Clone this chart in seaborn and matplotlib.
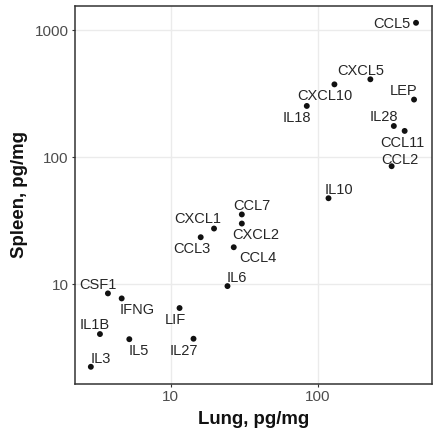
import matplotlib
matplotlib.use("Agg")
import matplotlib.pyplot as plt
import seaborn as sns
import pandas as pd

# ---- data ----
cytokines = ["CCL5", "CXCL5", "CXCL10", "IL18", "LEP", "IL28", "CCL11", "CCL2",
             "IL10", "CCL7", "CXCL2", "CXCL1", "CCL3", "CCL4", "IL6", "CSF1",
             "IFNG", "LIF", "IL1B", "IL5", "IL27", "IL3"]
lung = [461, 226, 129, 83.8, 447, 326, 386, 315,
        117.6, 30.4, 30.4, 19.7, 16.0, 26.8, 24.3, 3.76,
        4.66, 11.5, 3.32, 5.25, 14.3, 2.88]
spleen = [1140, 410, 374, 253, 284, 176, 161, 85,
          47.6, 35.5, 30.1, 27.5, 23.5, 19.6, 9.7, 8.5,
          7.76, 6.52, 4.07, 3.71, 3.74, 2.25]
x_ticks = [10, 100]
y_ticks = [10, 100, 1000]

# label offsets (pixels: dx right, dy down) of label centre from point
label_offsets = {
    "CCL5": (-24.3, 0.3), "CXCL5": (-9.7, -9.3), "CXCL10": (-9.7, 10.7),
    "IL18": (-10, 11), "LEP": (-10.3, -9.7), "IL28": (-10, -10),
    "CCL11": (-2, 11), "CCL2": (8, -7.7), "IL10": (10, -9.4),
    "CCL7": (9.7, -10), "CXCL1": (-16, -10.3), "CXCL2": (14, 10.3),
    "CCL3": (-9.3, 10.6), "CCL4": (23.7, 9.3), "IL6": (9.6, -9.3),
    "CSF1": (-9.7, -9.3), "IFNG": (16, 10.7), "LIF": (-3.7, 11),
    "IL1B": (-5, -10), "IL5": (10, 11), "IL27": (-10, 10.6), "IL3": (10, -9),
}

df = pd.DataFrame({"cytokine": cytokines, "lung": lung, "spleen": spleen})

sns.set_theme(style="white")
plt.rcParams["font.family"] = ["Liberation Sans", "DejaVu Sans"]

fig = plt.figure(figsize=(4.35, 4.33), dpi=100)
ax = fig.add_axes([75 / 435, 49 / 433, 357 / 435, 378 / 433])

sns.scatterplot(data=df, x="lung", y="spleen", ax=ax, color="#111111",
                s=18, edgecolor="none", zorder=3)
ax.set_xscale("log")
ax.set_yscale("log")
ax.set_xlim(10 ** 0.352, 10 ** 2.772)
ax.set_ylim(10 ** 0.217, 10 ** 3.189)

ax.set_xticks(x_ticks)
ax.set_xticklabels([str(t) for t in x_ticks])
ax.set_yticks(y_ticks)
ax.set_yticklabels([str(t) for t in y_ticks])
ax.minorticks_off()
ax.tick_params(axis="both", which="major", labelsize=11, labelcolor="#4D4D4D",
               color="#333333", length=2.5, width=0.8, pad=2, direction="out",
               left=True, bottom=True)

ax.grid(True, which="major", color="#EBEBEB", linewidth=1.0, zorder=0)
ax.set_axisbelow(True)
for sp in ax.spines.values():
    sp.set_color("#333333")
    sp.set_linewidth(1.1)

ax.set_xlabel("Lung, pg/mg", fontsize=13.4, fontweight="bold", color="#111111",
              labelpad=5)
ax.set_ylabel("Spleen, pg/mg", fontsize=13.4, fontweight="bold", color="#111111",
              labelpad=5)

for name, xv, yv in zip(cytokines, lung, spleen):
    dx, dy = label_offsets[name]
    ax.annotate(name, (xv, yv), xytext=(dx, -(dy + 5.2)),
                textcoords="offset pixels", ha="center", va="baseline",
                fontsize=10.5, color="#262626", zorder=4)

fig.savefig("out.png", dpi=100)
